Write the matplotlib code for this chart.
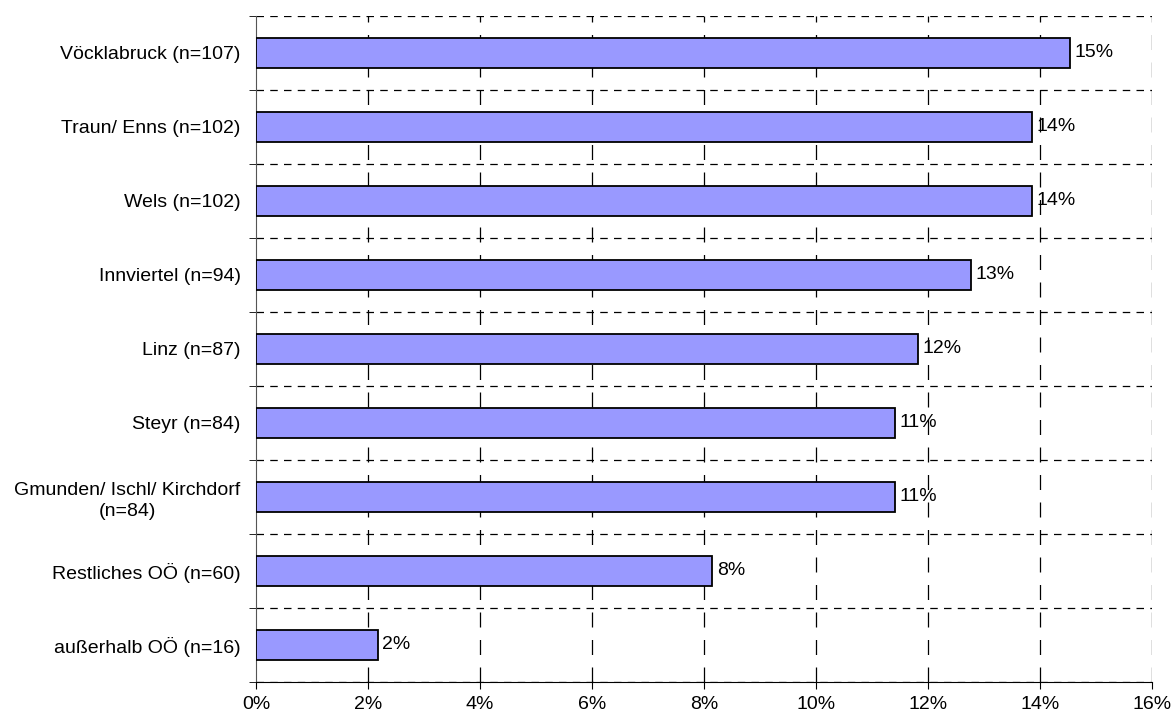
import numpy as np
import matplotlib
matplotlib.use("Agg")
import matplotlib.pyplot as plt
from matplotlib.ticker import FixedLocator, PercentFormatter

plt.rcParams['font.family'] = ['Liberation Sans', 'DejaVu Sans']

# regions and respondent counts
regions = [
    "Vöcklabruck (n=107)",
    "Traun/ Enns (n=102)",
    "Wels (n=102)",
    "Innviertel (n=94)",
    "Linz (n=87)",
    "Steyr (n=84)",
    "Gmunden/ Ischl/ Kirchdorf\n(n=84)",
    "Restliches OÖ (n=60)",
    "außerhalb OÖ (n=16)",
]
counts = [107, 102, 102, 94, 87, 84, 84, 60, 16]

shares = np.array(counts) / sum(counts) * 100

fig = plt.figure(figsize=(11.74, 7.19), dpi=100)
ax = fig.add_axes([0.218, 0.0515, 0.763, 0.9265])

y = np.arange(len(regions))
ax.barh(y, shares, height=0.4, color="#9999FF", edgecolor="black",
        linewidth=1.3, zorder=3)

for yi, v in zip(y, shares):
    ax.text(v + 0.08, yi, f"{v:.0f}%", va="center", ha="left",
            fontsize=14, zorder=4)

ax.set_xlim(0, 16)
ax.set_ylim(len(regions) - 0.5, -0.5)

ax.set_xticks(np.arange(0, 17, 2))
ax.xaxis.set_major_formatter(PercentFormatter(decimals=0))
ax.tick_params(axis="x", direction="out", length=5, labelsize=14, pad=5)

# labels at bar centres, tick marks at category boundaries
ax.set_yticks(y)
ax.set_yticklabels(regions, fontsize=14, multialignment="center",
                   linespacing=1.3)
ax.tick_params(axis="y", which="major", length=0, pad=11)
ax.yaxis.set_minor_locator(FixedLocator(np.arange(-0.5, len(regions), 1)))
ax.tick_params(axis="y", which="minor", direction="out", length=5)

# grid: short dashes between categories, long dashes on percent ticks
ax.grid(axis="y", which="minor", color="black", linestyle=(0, (6, 5)),
        linewidth=0.9, zorder=1)
for xv in np.arange(2, 17, 2):
    ax.axvline(xv, color="black", linestyle=(0, (12, 10)), linewidth=0.9,
               zorder=1)

ax.spines["top"].set_visible(False)
ax.spines["right"].set_visible(False)
ax.spines["left"].set_color("#555555")
ax.spines["bottom"].set_color("black")

fig.savefig("out.png", dpi=100)
